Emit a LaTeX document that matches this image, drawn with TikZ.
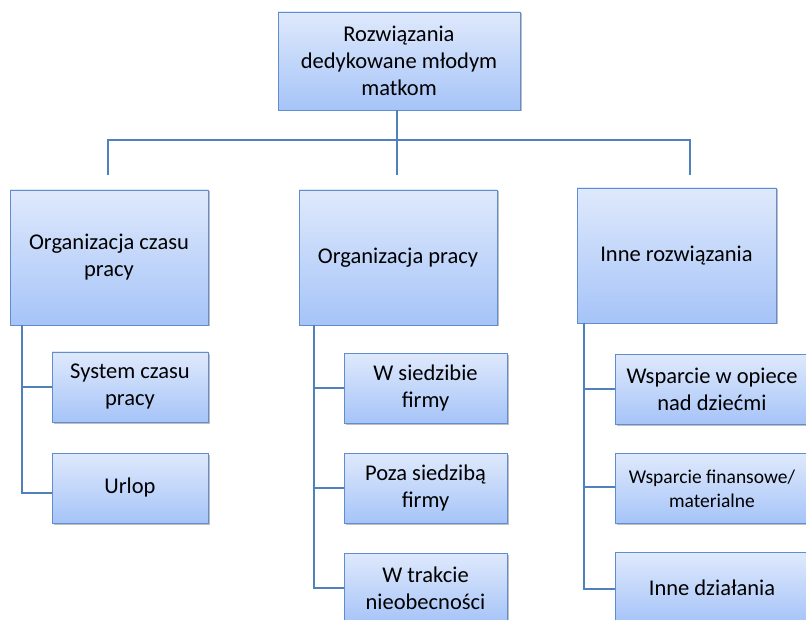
\documentclass[tikz,border=0pt]{standalone}
\usepackage{fontspec}
\setmainfont{Carlito}
\usepackage{tikz}
\usetikzlibrary{positioning,shadows}

\definecolor{boxtop}{RGB}{223,233,252}
\definecolor{boxbot}{RGB}{166,196,248}
\definecolor{boxline}{RGB}{96,141,206}
\definecolor{linkcol}{RGB}{79,129,189}

\tikzset{
  box/.style={draw=boxline, line width=0.9pt, top color=boxtop, bottom color=boxbot,
    inner sep=0pt, align=center, font=\fontsize{22.5}{27}\selectfont,
    drop shadow={shadow xshift=1.5pt, shadow yshift=-1.5pt, fill=black, opacity=0.25}},
  link/.style={draw=linkcol, line width=1.6pt}
}

\begin{document}
\begin{tikzpicture}[x=1pt,y=-1pt]
	\useasboundingbox (0,0) rectangle (806,620);
	\clip (0,0) rectangle (806,620);

	%% root
	\node[box, minimum width=242pt, minimum height=98pt] (root) at (399,61) {Rozwiązania\\dedykowane młodym\\matkom};

	%% first level
	\node[box, minimum width=198pt, minimum height=135pt] (czas) at (109,257.5) {Organizacja czasu\\pracy};
	\node[box, minimum width=198pt, minimum height=135pt] (praca) at (398,257.5) {Organizacja pracy};
	\node[box, minimum width=199pt, minimum height=135pt] (inne) at (676.5,255.5) {Inne rozwiązania};

	%% children of czas
	\node[box, minimum width=156pt, minimum height=70pt] (system) at (130,387) {System czasu\\pracy};
	\node[box, minimum width=156pt, minimum height=70pt] (urlop) at (130,488) {Urlop};

	%% children of praca
	\node[box, minimum width=163pt, minimum height=70pt] (siedziba) at (425.5,388) {W siedzibie\\firmy};
	\node[box, minimum width=163pt, minimum height=70pt] (poza) at (425.5,488) {Poza siedzibą\\firmy};
	\node[box, minimum width=163pt, minimum height=70pt] (trakcie) at (425.5,588) {W trakcie\\nieobecności};

	%% children of inne
	\node[box, minimum width=194pt, minimum height=70pt] (opieka) at (712,389) {Wsparcie w opiece\\nad dziećmi};
	\node[box, minimum width=194pt, minimum height=70pt, font=\fontsize{19.5}{24}\selectfont] (finanse) at (712,488.5) {Wsparcie finansowe/\\materialne};
	\node[box, minimum width=194pt, minimum height=70pt] (dzialania) at (712,587.5) {Inne działania};

	%% bus under root
	\coordinate (busL) at (108,140);
	\coordinate (busR) at (690,140);
	\coordinate (dropL) at (108,175);
	\coordinate (dropM) at (397,175);
	\coordinate (dropR) at (690,175);
	\draw[link] (root.south -| dropM) -- (dropM);
	\draw[link] (dropL) -- (busL) -- (busR) -- (dropR);

	%% spines
	\coordinate (spineL) at (22,325);
	\coordinate (spineM) at (314,325);
	\coordinate (spineR) at (584,323);
	\draw[link] (spineL) |- (system.west);
	\draw[link] (spineL) |- ([yshift=-5pt]urlop.west);
	\draw[link] (spineM) |- (siedziba.west);
	\draw[link] (spineM) |- (poza.west);
	\draw[link] (spineM) |- (trakcie.west);
	\draw[link] (spineR) |- (opieka.west);
	\draw[link] (spineR) |- ([yshift=1.5pt]finanse.west);
	\draw[link] (spineR) |- ([yshift=-1.5pt]dzialania.west);
\end{tikzpicture}
\end{document}
